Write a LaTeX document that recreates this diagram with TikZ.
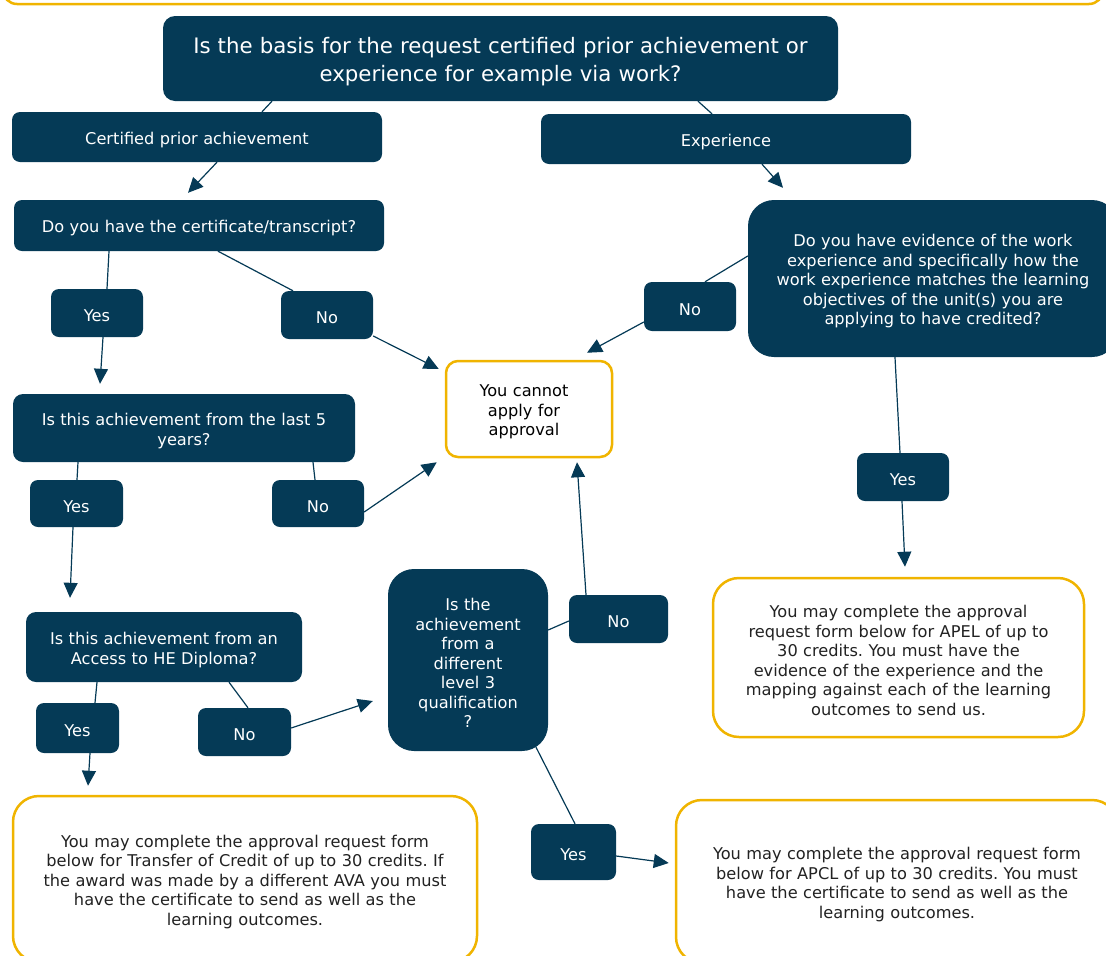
\documentclass[tikz,border=0pt]{standalone}
\usepackage{fontspec}
\setmainfont{DejaVu Sans}
\usetikzlibrary{arrows.meta}
\definecolor{navy}{RGB}{5,58,86}
\definecolor{gold}{RGB}{240,180,0}
\definecolor{ink}{RGB}{34,34,34}
\frenchspacing

\begin{document}
\begin{tikzpicture}[x=1pt,y=-1pt,
	>={Triangle[length=15pt,width=14pt]},
	textdrop/.style={execute at begin node={\frenchspacing\rule{0pt}{#1}}},
	wh/.style 2 args={minimum width=#1pt,minimum height=#2pt,text width=#1pt},
	box/.style={fill=navy,text=white,rounded corners=8pt,align=center,inner sep=0pt,font=\fontsize{16.2}{19.5}\selectfont,textdrop=18pt},
	bigbox/.style={box,rounded corners=26pt},
	outcome/.style={draw=gold,line width=2.5pt,fill=white,text=ink,rounded corners=26pt,align=center,inner sep=0pt,font=\fontsize{16.2}{19.5}\selectfont,textdrop=18pt},
	link/.style={navy,line width=1.2pt}]
	\useasboundingbox (0,0) rectangle (1106,956);
	\node[outcome,rounded corners=14pt,wh={1100}{120}] (frame) at (553,-56) {};
	\node[box,rounded corners=12pt,wh={675}{85},font=\fontsize{21.3}{28}\selectfont,textdrop=23pt] (basis) at (500.5,58.5) {Is the basis for the request certified prior achievement or\\experience for example via work?};
	\node[box,wh={370}{50}] (cert) at (197,137) {Certified prior achievement};
	\node[box,wh={370}{50}] (exper) at (726,139) {Experience};
	\node[box,wh={370}{51}] (certq) at (199,225.5) {Do you have the certificate/transcript?};
	\node[bigbox,wh={370}{157}] (evidq) at (933,278.5) {Do you have evidence of the work\\experience and specifically how the\\work experience matches the learning\\objectives of the unit(s) you are\\applying to have credited?};
	\node[box,wh={92}{48}] (yesA) at (97,313) {Yes};
	\node[box,wh={92}{48}] (noA) at (327,315) {No};
	\node[box,wh={92}{49}] (noE) at (690,306.5) {No};
	\node[outcome,rounded corners=12pt,wh={166}{96},text=black] (cannot) at (529,409) {You cannot\rule{10pt}{0pt}\\apply for\rule{10pt}{0pt}\\approval\rule{10pt}{0pt}};
	\node[box,rounded corners=10pt,wh={342}{68}] (last5) at (184,428) {Is this achievement from the last 5\\years?};
	\node[box,wh={93}{47}] (yesB) at (76.5,503.5) {Yes};
	\node[box,wh={92}{47}] (noB) at (318,503.5) {No};
	\node[box,wh={92}{48}] (yesE) at (903,477) {Yes};
	\node[box,rounded corners=10pt,wh={276}{70}] (access) at (164,647) {Is this achievement from an\\Access to HE Diploma?};
	\node[bigbox,wh={160}{182}] (levelq) at (468,660) {Is the\\achievement\\from a\\different\\level 3\\qualification\\?};
	\node[box,wh={83}{50}] (yesC) at (77.5,728) {Yes};
	\node[box,wh={93}{48}] (noC) at (244.5,732) {No};
	\node[box,wh={99}{48}] (noL) at (618.5,619) {No};
	\node[box,wh={85}{56}] (yesL) at (573.5,852) {Yes};
	\node[outcome,wh={371}{159}] (apel) at (898.5,657.5) {You may complete the approval\\request form below for APEL of up to\\30 credits. You must have the\\evidence of the experience and the\\mapping against each of the learning\\outcomes to send us.};
	\node[outcome,wh={464}{166}] (tocredit) at (245,879) {You may complete the approval request form\\below for Transfer of Credit of up to 30 credits. If\\the award was made by a different AVA you must\\have the certificate to send as well as the\\learning outcomes.};
	\node[outcome,wh={442}{163}] (apcl) at (897,881.5) {You may complete the approval request form\\below for APCL of up to 30 credits. You must\\have the certificate to send as well as the\\learning outcomes.};
	\draw[link] ([xshift=-228.5pt]basis.south) -- ([xshift=65pt]cert.north);
	\draw[link] ([xshift=197.5pt]basis.south) -- ([xshift=-14pt]exper.north);
	\draw[link,->] ([xshift=20pt]cert.south) -- ([xshift=-11pt,yshift=7pt]certq.north);
	\draw[link,->] ([xshift=36pt]exper.south) -- ([xshift=-150pt,yshift=12pt]evidq.north);
	\draw[link] ([xshift=-90pt]certq.south) -- ([xshift=10pt]yesA.north);
	\draw[link,->] ([xshift=6pt]yesA.south) -- ([xshift=-84pt,yshift=10pt]last5.north);
	\draw[link] ([xshift=19pt]certq.south) -- ([xshift=-34pt]noA.north);
	\draw[link,->] ([yshift=-21pt]noA.east) -- ([xshift=-6pt,yshift=40pt]cannot.west);
	\draw[link] ([yshift=22.5pt]evidq.west) -- ([xshift=15pt]noE.north);
	\draw[link,->] ([yshift=-15.5pt]noE.west) -- ([xshift=58pt,yshift=7pt]cannot.north);
	\draw[link] ([xshift=-38pt]evidq.south) -- ([xshift=-3pt]yesE.north);
	\draw[link,->] ([xshift=-1pt]yesE.south) -- ([xshift=6.5pt,yshift=10pt]apel.north);
	\draw[link] ([xshift=-106pt]last5.south) -- ([xshift=0.5pt]yesB.north);
	\draw[link] ([xshift=129pt]last5.south) -- ([xshift=-3pt]noB.north);
	\draw[link,->] ([xshift=-3.5pt]yesB.south) -- ([xshift=-94pt,yshift=14pt]access.north);
	\draw[link,->] ([yshift=-8.5pt]noB.east) -- ([xshift=-8pt,yshift=-4pt]cannot.south west);
	\draw[link] ([xshift=-67pt]access.south) -- ([xshift=17.5pt]yesC.north);
	\draw[link] ([xshift=65pt]access.south) -- ([xshift=3.5pt]noC.north);
	\draw[link,->] ([xshift=12.5pt]yesC.south) -- ([xshift=-157pt,yshift=9pt]tocredit.north);
	\draw[link,->] ([yshift=4pt]noC.east) -- ([xshift=-15pt,yshift=-41pt]levelq.west);
	\draw[link] ([yshift=30pt]levelq.east) -- ([yshift=-2pt]noL.west);
	\draw[link,->] ([xshift=-32.5pt]noL.north) -- ([xshift=48pt,yshift=-4pt]cannot.south);
	\draw[link] ([xshift=68pt,yshift=4pt]levelq.south) -- ([xshift=1.5pt]yesL.north);
	\draw[link,->] ([yshift=-4pt]yesL.east) -- ([xshift=-6pt,yshift=18.5pt]apcl.west);
\end{tikzpicture}
\end{document}
